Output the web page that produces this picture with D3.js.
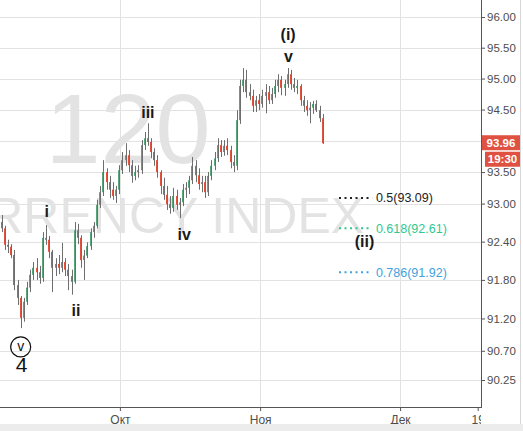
<!DOCTYPE html>
<html><head><meta charset="utf-8">
<script src="https://cdn.jsdelivr.net/npm/d3@7"></script>
<style>html,body{margin:0;padding:0;background:#fff;overflow:hidden}</style>
</head><body><svg id="c" width="523" height="431"></svg>
<script>
// ---- data (DXY, 120-minute chart; one bar here ~ half a trading day) ----
const opens=[92.71,92.61,92.35,92.32,92.19,91.72,91.52,91.21,91.46,91.68,
91.88,91.99,91.92,91.83,92.46,92.43,92.24,91.99,92.05,91.99,
92.08,91.96,91.86,91.77,92.58,92.46,92.11,92.18,92.33,92.55,
92.65,92.98,93.18,93.50,93.34,93.22,93.12,93.22,93.53,93.69,
93.77,93.61,93.44,93.50,93.53,93.93,94.04,93.98,93.82,93.69,
93.50,93.28,93.14,92.99,92.93,93.12,92.98,93.02,93.22,93.25,
93.37,93.60,93.45,93.31,93.34,93.18,93.44,93.60,93.72,93.93,
93.82,93.92,93.85,93.66,93.60,94.33,94.88,94.98,94.78,94.72,
94.56,94.65,94.59,94.72,94.78,94.65,94.75,94.88,94.98,94.85,
94.91,95.07,94.91,94.85,94.88,94.65,94.56,94.49,94.53,94.59,
94.49,94.36];
const highs=[92.82,92.65,92.43,92.36,92.27,91.80,91.55,91.52,91.77,91.96,
92.08,92.14,92.02,92.55,92.66,92.49,92.27,92.14,92.19,92.38,
92.14,92.05,91.96,92.71,92.68,92.50,92.27,92.39,92.61,92.71,
93.06,93.28,93.69,93.56,93.44,93.34,93.28,93.61,93.82,93.96,
93.85,93.69,93.60,93.61,94.01,94.14,94.28,94.04,93.88,93.77,
93.53,93.41,93.28,93.12,93.25,93.22,93.09,93.31,93.34,93.44,
93.74,93.69,93.56,93.44,93.44,93.50,93.69,93.82,94.04,94.01,
94.01,94.04,93.92,93.77,94.49,94.98,95.17,95.14,94.91,94.82,
94.72,94.75,94.82,94.91,94.88,94.85,94.98,95.07,95.04,94.98,
95.17,95.14,95.01,94.98,94.91,94.72,94.65,94.62,94.64,94.65,
94.56,94.43];
const lows=[92.55,92.27,92.22,92.14,91.64,91.41,91.05,91.15,91.41,91.61,
91.80,91.80,91.74,91.77,92.35,92.14,91.61,91.86,91.89,91.92,
91.86,91.64,91.57,91.74,92.36,91.99,91.80,92.14,92.27,92.46,
92.61,92.93,93.12,93.22,93.09,93.06,93.01,93.15,93.47,93.60,
93.50,93.33,93.37,93.41,93.47,93.85,93.92,93.72,93.60,93.41,
93.15,93.06,92.90,92.84,92.87,92.90,92.77,92.96,93.09,93.15,
93.31,93.34,93.22,93.18,93.09,93.12,93.37,93.53,93.66,93.74,
93.76,93.77,93.56,93.50,93.53,94.27,94.78,94.69,94.65,94.46,
94.46,94.49,94.53,94.44,94.59,94.59,94.69,94.78,94.73,94.72,
94.85,94.82,94.78,94.75,94.56,94.46,94.40,94.28,94.43,94.46,
94.30,93.95];
const closes=[92.61,92.35,92.32,92.19,91.72,91.52,91.21,91.46,91.68,91.88,
91.99,91.92,91.83,92.46,92.43,92.24,91.99,92.05,91.99,92.08,
91.96,91.86,91.77,92.58,92.46,92.11,92.18,92.33,92.55,92.65,
92.98,93.18,93.50,93.34,93.22,93.12,93.22,93.53,93.69,93.77,
93.61,93.44,93.50,93.53,93.93,94.04,93.98,93.82,93.69,93.50,
93.28,93.14,92.99,92.93,93.12,92.98,93.02,93.22,93.25,93.37,
93.60,93.45,93.31,93.34,93.18,93.44,93.60,93.72,93.93,93.82,
93.92,93.85,93.66,93.60,94.33,94.88,94.98,94.78,94.72,94.56,
94.65,94.59,94.72,94.78,94.65,94.75,94.88,94.98,94.85,94.91,
95.07,94.91,94.85,94.88,94.65,94.56,94.49,94.53,94.59,94.49,
94.36,93.96];

const priceTicks=[96,95.5,95,94.5,94,93.5,93,92.4,91.8,91.2,90.7,90.25];
const timeTickBars=[37.2,81.3,125.3,149.7];
const timeTickLabels=["Окт","Ноя","Дек","19"];
const timeGridBars=[37.2,81.3,125.3];

const waveTexts=["i","ii","iii","iv","(i)","v","(ii)"];
const waveBars=[14.2,23.4,46.0,57.4,90.1,90.2,114.1];
const wavePrices=[92.79,91.24,94.36,92.43,95.62,95.27,92.32];

const fibNames=["0.5","0.618","0.786"];
const fibPrices=[93.09,92.61,91.92];
const fibColors=["#222222","#2fc98f","#3fa2dc"];
const fibFromBar=106.1, fibToBar=116.5, fibTextBar=117.7;

const circleWave={text:"v",bar:6.0,price:90.76};
const degreeLabel={text:"4",bar:6.3,price:90.37};

const lastPrice=93.96, lastTime="19:30";
const watermark1="120", watermark2="CURRENCY INDEX";

// ---- layout ----
const W=523,H=431,plotR=481,plotB=407;
const svg=d3.select("#c");
const x=d3.scaleLinear().domain([0,101]).range([1.6,322.8]);
const y=d3.scaleLog().domain([90.25,96]).range([380,17]);
const FONT="'Liberation Sans', Arial, sans-serif";

svg.append("rect").attr("width",W).attr("height",H).attr("fill","#fff");
const defs=svg.append("defs");
defs.append("clipPath").attr("id","plotclip").append("rect").attr("x",0).attr("y",0).attr("width",plotR).attr("height",plotB);
defs.append("clipPath").attr("id","xclip").append("rect").attr("x",0).attr("y",plotB).attr("width",plotR).attr("height",H-plotB);

const plot=svg.append("g").attr("clip-path","url(#plotclip)");

// grid
plot.selectAll("line.hg").data(priceTicks).join("line").attr("class","hg")
  .attr("x1",0).attr("x2",plotR).attr("y1",d=>Math.round(y(d))+0.5).attr("y2",d=>Math.round(y(d))+0.5)
  .attr("stroke","#e2e2e2").attr("stroke-width",1);
plot.selectAll("line.vg").data(timeGridBars).join("line").attr("class","vg")
  .attr("y1",0).attr("y2",plotB).attr("x1",d=>Math.round(x(d))+0.5).attr("x2",d=>Math.round(x(d))+0.5)
  .attr("stroke","#e2e2e2").attr("stroke-width",1);

// watermarks
plot.append("text").text(watermark1).attr("x",128).attr("y",163).attr("text-anchor","middle")
  .attr("font-family",FONT).attr("font-size",99).attr("fill","#e3e3e3");
plot.append("text").text(watermark2).attr("x",-85).attr("y",233)
  .attr("font-family",FONT).attr("font-size",50).attr("fill","#e3e3e3");

// candles
const idx=d3.range(closes.length);
const cg=plot.append("g");
cg.selectAll("rect").data(idx).join("rect")
  .attr("x",i=>Math.round(x(i))-1).attr("width",2)
  .attr("y",i=>Math.min(y(opens[i]),y(closes[i])))
  .attr("height",i=>Math.max(1,Math.abs(y(opens[i])-y(closes[i]))))
  .attr("fill",i=>closes[i]>=opens[i]?"#5aa67c":"#e0533f");
cg.selectAll("line").data(idx).join("line")
  .attr("x1",i=>Math.round(x(i))+0.5).attr("x2",i=>Math.round(x(i))+0.5)
  .attr("y1",i=>y(highs[i])).attr("y2",i=>y(lows[i]))
  .attr("stroke","#6e6e6e").attr("stroke-width",1);

// wave labels
plot.selectAll("text.w").data(waveTexts).join("text").attr("class","w")
  .text(d=>d).attr("x",(d,i)=>x(waveBars[i])).attr("y",(d,i)=>y(wavePrices[i]))
  .attr("text-anchor","middle").attr("font-family",FONT).attr("font-size",16)
  .attr("font-weight","bold").attr("fill","#1a1a1a");
plot.append("circle").attr("cx",x(circleWave.bar)).attr("cy",y(circleWave.price)).attr("r",10)
  .attr("fill","none").attr("stroke","#111").attr("stroke-width",1.2);
plot.append("text").text(circleWave.text).attr("x",x(circleWave.bar)).attr("y",y(circleWave.price))
  .attr("dy","0.3em").attr("text-anchor","middle").attr("font-family",FONT).attr("font-size",14).attr("fill","#111");
plot.append("text").text(degreeLabel.text).attr("x",x(degreeLabel.bar)).attr("y",y(degreeLabel.price))
  .attr("text-anchor","middle").attr("font-family",FONT).attr("font-size",21).attr("fill","#111");

// fib levels
const fg=plot.append("g");
fibPrices.forEach((p,i)=>{
  fg.append("line").attr("x1",x(fibFromBar)).attr("x2",x(fibToBar)).attr("y1",y(p)).attr("y2",y(p))
    .attr("stroke",fibColors[i]).attr("stroke-width",2).attr("stroke-dasharray","2,3.5");
  fg.append("text").text(fibNames[i]+"("+p.toFixed(2)+")").attr("x",x(fibTextBar)).attr("y",y(p))
    .attr("dy","0.35em").attr("font-family",FONT).attr("font-size",12.5).attr("fill",fibColors[i]);
});

// y axis
const yAxis=d3.axisRight(y).tickValues(priceTicks).tickFormat(d3.format(".2f")).tickSize(4).tickPadding(2);
const ya=svg.append("g").attr("transform",`translate(${plotR},0)`).call(yAxis);
ya.select(".domain").remove();
ya.selectAll("line").attr("stroke","#555");
ya.selectAll("text").attr("font-family",FONT).attr("font-size",11.5).attr("fill","#4d4d4d");

// x axis
const xAxis=d3.axisBottom(x).tickValues(timeTickBars).tickFormat((d,i)=>timeTickLabels[i]).tickSize(4).tickPadding(4);
const xa=svg.append("g").attr("clip-path","url(#xclip)").append("g").attr("transform",`translate(0,${plotB})`).call(xAxis);
xa.select(".domain").remove();
xa.selectAll("line").attr("stroke","#555");
xa.selectAll("text").attr("font-family",FONT).attr("font-size",12).attr("fill","#4d4d4d");

// axis lines
svg.append("line").attr("x1",plotR+0.5).attr("x2",plotR+0.5).attr("y1",0).attr("y2",plotB+1).attr("stroke","#555");
svg.append("line").attr("x1",0).attr("x2",plotR+1).attr("y1",plotB+0.5).attr("y2",plotB+0.5).attr("stroke","#555");

// last price / time labels
const ly=y(lastPrice);
svg.append("rect").attr("x",plotR+1).attr("y",ly-8).attr("width",38).attr("height",15).attr("fill","#df5141");
svg.append("text").text(lastPrice.toFixed(2)).attr("x",plotR+20).attr("y",ly).attr("dy","0.36em")
  .attr("text-anchor","middle").attr("font-family",FONT).attr("font-size",11.5).attr("font-weight","bold").attr("fill","#fff");
svg.append("rect").attr("x",plotR+4).attr("y",ly+8.5).attr("width",35).attr("height",15).attr("fill","#df5141");
svg.append("text").text(lastTime).attr("x",plotR+21.5).attr("y",ly+16).attr("dy","0.36em")
  .attr("text-anchor","middle").attr("font-family",FONT).attr("font-size",11.5).attr("font-weight","bold").attr("fill","#fff");

// frame bits
svg.append("line").attr("x1",520.5).attr("x2",520.5).attr("y1",0).attr("y2",424).attr("stroke","#d6d6d6");
svg.append("rect").attr("x",0).attr("y",424).attr("width",W).attr("height",H-424).attr("fill","#ececec");
</script></body></html>
